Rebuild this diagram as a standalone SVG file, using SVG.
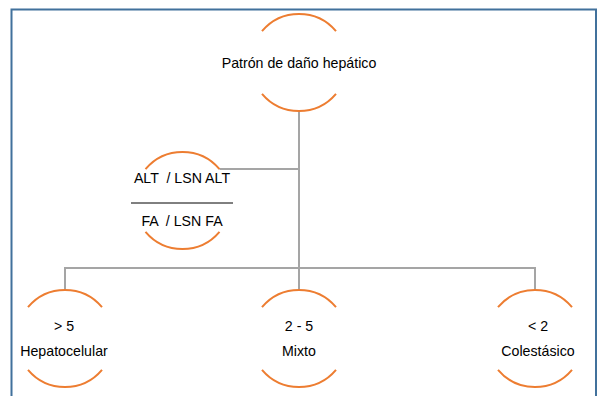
<svg xmlns="http://www.w3.org/2000/svg" width="599" height="396" viewBox="0 0 599 396">
<style>
.frame{fill:none;stroke:#41719C;stroke-width:2}
.arc{fill:none;stroke:#ED7D31;stroke-width:2}
.conn{fill:none;stroke:#A5A5A5;stroke-width:2}
text{font-family:"Liberation Sans",Arial,sans-serif;font-size:14.2px;fill:#000;text-anchor:middle}
</style>
<rect width="599" height="396" fill="#fff"/>
<path class="frame" d="M11.5 400 V9.5 H596 V400"/>
<g id="connectors">
<path class="conn" d="M299 111 V268"/>
<path class="conn" d="M219.5 169 H299"/>
<path class="conn" d="M65 290 V268 H535 V290"/>
<path class="conn" d="M299 268 V290"/>
</g>
<g id="node-patron">
<path class="arc" d="M262 31.2 A48.5 48.5 0 0 1 336 31.2"/>
<path class="arc" d="M262 93.8 A48.5 48.5 0 0 0 336 93.8"/>
<text x="299" y="68">Patrón de daño hepático</text>
</g>
<g id="node-ratio">
<path class="arc" d="M145.5 169.2 A48.5 48.5 0 0 1 219.5 169.2"/>
<path class="arc" d="M145.5 231.8 A48.5 48.5 0 0 0 219.5 231.8"/>
<text x="182" y="183" xml:space="preserve">ALT  / LSN ALT</text>
<line x1="131" y1="203" x2="233" y2="203" stroke="#000" stroke-width="1"/>
<text x="182" y="226" xml:space="preserve">FA  / LSN FA</text>
</g>
<g id="node-hepatocelular">
<path class="arc" d="M28 307.2 A48.5 48.5 0 0 1 102 307.2"/>
<path class="arc" d="M28 369.8 A48.5 48.5 0 0 0 102 369.8"/>
<text x="64" y="331">&gt; 5</text>
<text x="64" y="356">Hepatocelular</text>
</g>
<g id="node-mixto">
<path class="arc" d="M262 307.2 A48.5 48.5 0 0 1 336 307.2"/>
<path class="arc" d="M262 369.8 A48.5 48.5 0 0 0 336 369.8"/>
<text x="299" y="331">2 - 5</text>
<text x="299" y="356">Mixto</text>
</g>
<g id="node-colestasico">
<path class="arc" d="M498 307.2 A48.5 48.5 0 0 1 572 307.2"/>
<path class="arc" d="M498 369.8 A48.5 48.5 0 0 0 572 369.8"/>
<text x="538" y="331">&lt; 2</text>
<text x="538" y="356">Colestásico</text>
</g>
</svg>
